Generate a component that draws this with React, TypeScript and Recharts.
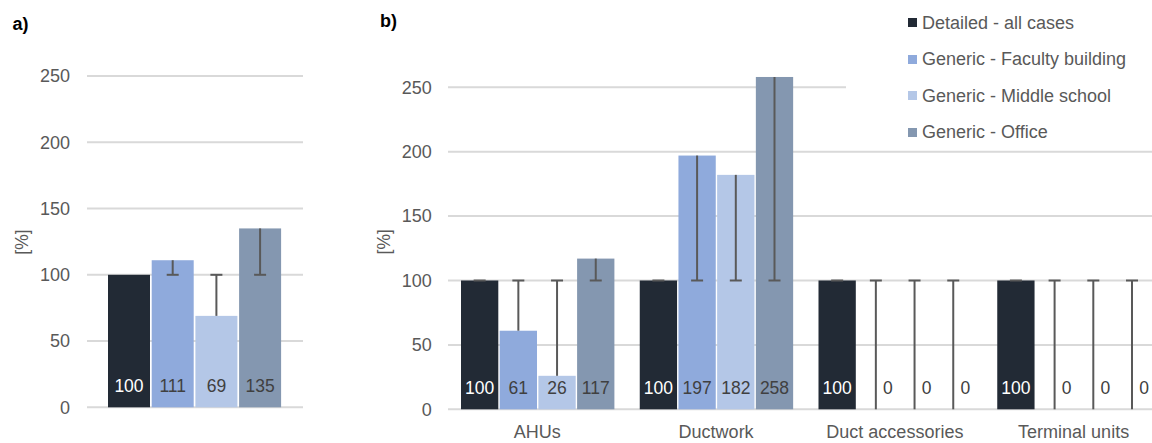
import React from 'react';
import { BarChart, Bar, XAxis, YAxis, CartesianGrid, Legend } from 'recharts';

// ---------- data ----------
const SERIES_NAMES = [
  'Detailed - all cases',
  'Generic - Faculty building',
  'Generic - Middle school',
  'Generic - Office',
];
const SERIES_COLORS = ['#222A35', '#8FAADC', '#B4C7E7', '#8497B0'];
const LABEL_COLORS = ['#FFFFFF', '#404040', '#404040', '#404040'];

const REFERENCE = 100;
const Y_TICKS = [0, 50, 100, 150, 200, 250];
const Y_MAX = 260;

const panelACategories = ['Total'];
const panelADetailed = [100];
const panelAFaculty = [111];
const panelAMiddle = [69];
const panelAOffice = [135];

const panelBCategories = ['AHUs', 'Ductwork', 'Duct accessories', 'Terminal units'];
const panelBDetailed = [100, 100, 100, 100];
const panelBFaculty = [61, 197, 0, 0];
const panelBMiddle = [26, 182, 0, 0];
const panelBOffice = [117, 258, 0, 0];

// ---------- helpers ----------
const FONT = '"Liberation Sans", Arial, Helvetica, sans-serif';
const TEXT_GREY = '#595959';
const ERR_COLOR = '#595959';

function buildRows(categories: string[], series: number[][], capOnDetailed: boolean) {
  return categories.map((name, ci) => {
    const row: any = { name };
    series.forEach((vals, si) => {
      const v = vals[ci];
      row[`v${si}`] = v;
      row[`s${si}`] = [0, v];
      if (si === 0) {
        row[`e${si}`] = capOnDetailed ? [REFERENCE, REFERENCE] : null;
      } else {
        row[`e${si}`] = [Math.min(v, REFERENCE), Math.max(v, REFERENCE)];
      }
    });
    return row;
  });
}

const rowsA = buildRows(panelACategories, [panelADetailed, panelAFaculty, panelAMiddle, panelAOffice], false);
const rowsB = buildRows(panelBCategories, [panelBDetailed, panelBFaculty, panelBMiddle, panelBOffice], true);

const makeBarShape = (si: number) => (props: any) => {
  const { x, y, width, height, payload } = props;
  if (x == null || y == null || payload == null) return <g />;
  const h = height || 0;
  const top = Math.min(y, y + h);
  const bottom = Math.max(y, y + h);
  const v = payload[`v${si}`];
  const cx = x + width / 2 + (v === 0 ? 12 : 0);
  return (
    <g>
      {bottom - top > 0 && (
        <rect x={x} y={top} width={width} height={bottom - top} fill={SERIES_COLORS[si]} />
      )}
      <text
        x={cx}
        y={bottom - 15.7}
        textAnchor="middle"
        fill={LABEL_COLORS[si]}
        fontSize={17.5}
        fontFamily={FONT}
      >
        {v}
      </text>
    </g>
  );
};

const makeErrShape = (si: number) => (props: any) => {
  const { x, y, width, height, payload } = props;
  if (x == null || y == null || payload == null || payload[`e${si}`] == null) return <g />;
  const v = payload[`v${si}`];
  const h = height || 0;
  const top = Math.min(y, y + h);
  const bottom = Math.max(y, y + h);
  const cx = x + width / 2;
  const capY = v > REFERENCE ? bottom : top;
  return (
    <g>
      {bottom - top > 0.5 && (
        <line x1={cx} x2={cx} y1={top} y2={bottom} stroke={ERR_COLOR} strokeWidth={2} />
      )}
      <line x1={cx - 6} x2={cx + 6} y1={capY} y2={capY} stroke={ERR_COLOR} strokeWidth={2} />
    </g>
  );
};

const makeAxisLabel = (dxFromLeft: number, cy: number) => (props: any) => {
  const vb = props.viewBox || {};
  const x = (vb.x ?? 0) + dxFromLeft;
  return (
    <text
      x={x}
      y={cy}
      transform={`rotate(-90, ${x}, ${cy})`}
      textAnchor="middle"
      dominantBaseline="central"
      fill={TEXT_GREY}
      fontSize={17.5}
      fontFamily={FONT}
    >
      [%]
    </text>
  );
};

const LegendContent = (props: any) => {
  const payload = (props.payload || []).filter((p: any) => SERIES_NAMES.includes(p.value));
  return (
    <div style={{ position: 'relative', width: '100%', height: '100%', background: '#fff', fontFamily: FONT }}>
      {payload.map((p: any, i: number) => (
        <div
          key={p.value}
          style={{
            position: 'absolute',
            left: 0,
            top: 4.5 + i * 36.5,
            height: 36.5,
            width: '100%',
          }}
        >
          <div
            style={{
              position: 'absolute',
              left: 61.5,
              top: 13.7,
              width: 9,
              height: 9,
              background: p.color,
            }}
          />
          <div
            style={{
              position: 'absolute',
              left: 76,
              top: 0,
              lineHeight: '36.5px',
              fontSize: 18,
              color: TEXT_GREY,
              whiteSpace: 'nowrap',
            }}
          >
            {p.value}
          </div>
        </div>
      ))}
    </div>
  );
};

function renderSeries() {
  const main = SERIES_NAMES.map((name, si) => (
    <Bar
      key={`s${si}`}
      xAxisId="main"
      dataKey={`s${si}`}
      name={name}
      fill={SERIES_COLORS[si]}
      shape={makeBarShape(si)}
      isAnimationActive={false}
    />
  ));
  const errs = SERIES_NAMES.map((name, si) => (
    <Bar
      key={`e${si}`}
      xAxisId="err"
      dataKey={`e${si}`}
      name={`${name} range`}
      legendType="none"
      fill="none"
      shape={makeErrShape(si)}
      isAnimationActive={false}
    />
  ));
  return [...main, ...errs];
}

export default function App() {
  return (
    <div
      style={{
        position: 'absolute',
        left: 0,
        top: 0,
        width: 1152,
        height: 443,
        overflow: 'hidden',
        background: '#fff',
        fontFamily: FONT,
      }}
    >
      {/* Panel a */}
      <div style={{ position: 'absolute', left: 0, top: 0 }}>
        <BarChart
          width={303}
          height={443}
          data={rowsA}
          margin={{ top: 62.8, right: 0, bottom: 35.7, left: 0 }}
          barSize={42}
          barGap={1.7}
        >
          <CartesianGrid vertical={false} stroke="#D9D9D9" strokeWidth={2} syncWithTicks />
          <XAxis xAxisId="main" dataKey="name" hide height={0} />
          <XAxis xAxisId="err" dataKey="name" hide height={0} orientation="top" />
          <YAxis
            domain={[0, Y_MAX]}
            ticks={Y_TICKS}
            width={87}
            axisLine={false}
            tickLine={false}
            tickSize={0}
            tickMargin={17}
            tick={{ fill: TEXT_GREY, fontSize: 18, fontFamily: FONT }}
            label={{ content: makeAxisLabel(22, 242) }}
          />
          {renderSeries()}
        </BarChart>
      </div>

      {/* Panel b */}
      <div style={{ position: 'absolute', left: 360, top: 0 }}>
        <BarChart
          width={803}
          height={443}
          data={rowsB}
          margin={{ top: 74.4, right: 0, bottom: 0, left: 0 }}
          barSize={37.3}
          barGap={1.4}
        >
          <CartesianGrid vertical={false} stroke="#D9D9D9" strokeWidth={2} syncWithTicks />
          <XAxis
            xAxisId="main"
            dataKey="name"
            height={33.7}
            axisLine={false}
            tickLine={false}
            tickSize={0}
            tickMargin={15.7}
            interval={0}
            tick={{ fill: TEXT_GREY, fontSize: 18, fontFamily: FONT }}
          />
          <XAxis xAxisId="err" dataKey="name" hide height={0} orientation="top" />
          <YAxis
            domain={[0, Y_MAX]}
            ticks={Y_TICKS}
            width={88}
            axisLine={false}
            tickLine={false}
            tickSize={0}
            tickMargin={16.3}
            tick={{ fill: TEXT_GREY, fontSize: 18, fontFamily: FONT }}
            label={{ content: makeAxisLabel(24, 241.8) }}
          />
          <Legend
            layout="horizontal"
            verticalAlign="middle"
            align="center"
            content={<LegendContent />}
            wrapperStyle={{ left: 486, top: 0, width: 320, height: 148, background: '#fff' }}
          />
          {renderSeries()}
        </BarChart>
      </div>

      {/* Panel letters */}
      <svg
        width={1152}
        height={443}
        style={{ position: 'absolute', left: 0, top: 0, pointerEvents: 'none' }}
      >
        <text x={12.5} y={29.5} fontSize={18} fontWeight="bold" fill="#000" fontFamily={FONT}>
          a)
        </text>
        <text x={380} y={26.5} fontSize={18} fontWeight="bold" fill="#000" fontFamily={FONT}>
          b)
        </text>
      </svg>
    </div>
  );
}
